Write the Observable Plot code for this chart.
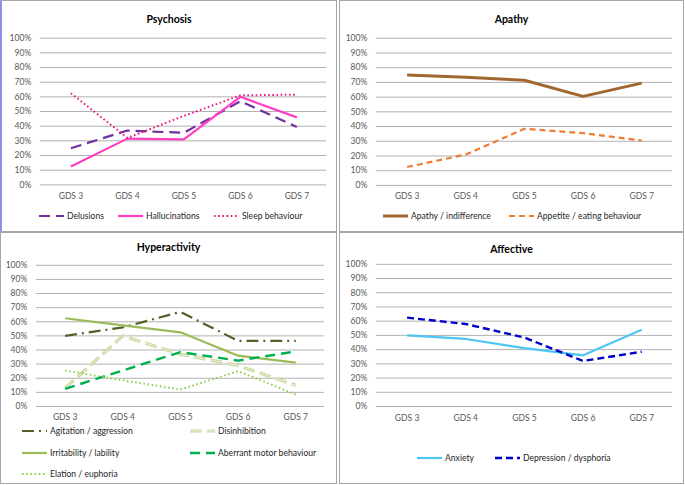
<!DOCTYPE html>
<html>
<head>
<meta charset="utf-8">
<script src="https://cdn.jsdelivr.net/npm/d3@7"></script>
<script src="https://cdn.jsdelivr.net/npm/@observablehq/plot@0.6"></script>
<style>
  html, body { margin: 0; padding: 0; background: #fff; }
  body { width: 685px; height: 485px; position: relative; overflow: hidden; font-family: Lato, "Open Sans", sans-serif; }
  .panel { position: absolute; box-sizing: border-box; border: 1px solid #a6a6a6; background: #fff; }
  .panel svg.plot { position: absolute; left: 0; top: 0; overflow: visible; }
  .title { position: absolute; left: 0; width: 100%; text-align: center; font-weight: bold; font-size: 10.5px; color: #000; }
  .legend { position: absolute; font-size: 8.6px; color: #262626; }
  .item { position: absolute; display: flex; align-items: center; white-space: nowrap; }
  .item svg { display: block; margin-right: 3px; }
</style>
</head>
<body>
<div id="root"></div>
<script>
// ---------- data ----------
const categories = ["GDS 3", "GDS 4", "GDS 5", "GDS 6", "GDS 7"];
const yTicks = [0, 10, 20, 30, 40, 50, 60, 70, 80, 90, 100];

// Psychosis
const delusions = [25, 37, 35.5, 57, 39.5];
const hallucinations = [12.5, 31.5, 31, 60, 46];
const sleepBehaviour = [62.5, 32, 47, 61, 61.5];
// Apathy
const apathyIndifference = [75, 73.5, 71.5, 60.5, 69.5];
const appetiteEating = [12.5, 21, 38.5, 35.5, 30.5];
// Hyperactivity
const agitationAggression = [50, 56, 67, 46.5, 46.5];
const disinhibition = [13, 50, 37, 29, 15];
const irritabilityLability = [62.5, 57.5, 52.5, 36, 31];
const aberrantMotor = [12.5, 25.5, 38.5, 32.5, 39];
const elationEuphoria = [25.5, 18.5, 12, 25, 8.5];
// Affective
const anxiety = [50, 47.5, 41, 36, 54];
const depressionDysphoria = [62.5, 58, 48.5, 32, 38.5];

// ---------- styles ----------
const styles = {
  "Delusions": {stroke: "#7030a0", width: 2.2, dash: "11,6"},
  "Hallucinations": {stroke: "#ff3ec4", width: 2.2, dash: null},
  "Sleep behaviour": {stroke: "#e8177f", width: 2, dash: "1.6,2.6"},
  "Apathy / indifference": {stroke: "#a0672f", width: 3, dash: null},
  "Appetite / eating behaviour": {stroke: "#ed7d31", width: 2.2, dash: "6,4"},
  "Agitation / aggression": {stroke: "#4f6228", width: 2.2, dash: "12,5,2,5"},
  "Disinhibition": {stroke: "#c4d79b", width: 3.2, dash: "12,5", inner: "#eef4e0"},
  "Irritability / lability": {stroke: "#9bbb59", width: 2.2, dash: null},
  "Aberrant motor behaviour": {stroke: "#00b050", width: 2.4, dash: "10,6"},
  "Elation / euphoria": {stroke: "#92d050", width: 2, dash: "1.6,2.6"},
  "Anxiety": {stroke: "#4cc6f2", width: 2.2, dash: null},
  "Depression / dysphoria": {stroke: "#0000cc", width: 2.4, dash: "7,4"}
};

function rows(values) { return categories.map((c, i) => ({x: c, y: values[i]})); }

function lineMarks(series) {
  const marks = [];
  for (const [name, values] of series) {
    const s = styles[name];
    marks.push(Plot.line(rows(values), {x: "x", y: "y", stroke: s.stroke, strokeWidth: s.width, strokeDasharray: s.dash || undefined, strokeLinejoin: "round", strokeLinecap: "butt"}));
    if (s.inner) marks.push(Plot.line(rows(values), {x: "x", y: "y", stroke: s.inner, strokeWidth: 1, strokeDasharray: s.dash}));
  }
  return marks;
}

function makePlot(series, opt) {
  const svg = Plot.plot({
    width: opt.width, height: opt.height,
    marginTop: opt.top, marginBottom: opt.bottom, marginLeft: opt.left, marginRight: opt.right,
    style: {fontFamily: "Lato, sans-serif", fontSize: "8.6px", color: "#595959", background: "transparent"},
    x: {type: "point", domain: categories, padding: 0.5, label: null},
    y: {domain: [0, 100], label: null},
    marks: [
      Plot.ruleY(yTicks, {stroke: "#b0b0b0", strokeWidth: 1}),
      Plot.axisY({ticks: yTicks, tickSize: 0, tickPadding: 9, tickFormat: d => d + "%", fill: "#595959"}),
      Plot.axisX({tickSize: 0, tickPadding: 8, fill: "#595959"}),
      ...lineMarks(series)
    ]
  });
  svg.classList.add("plot");
  return svg;
}

function swatch(name) {
  const s = styles[name];
  const w = 25;
  let inner = `<line x1="0" y1="5" x2="${w}" y2="5" stroke="${s.stroke}" stroke-width="${s.width}" ${s.dash ? `stroke-dasharray="${s.dash}"` : ""}/>`;
  if (s.inner) inner += `<line x1="0" y1="5" x2="${w}" y2="5" stroke="${s.inner}" stroke-width="1" stroke-dasharray="${s.dash}"/>`;
  return `<svg width="${w}" height="10">${inner}</svg>`;
}

function panel(cfg) {
  const div = document.createElement("div");
  div.className = "panel";
  Object.assign(div.style, {left: cfg.x + "px", top: cfg.y + "px", width: cfg.w + "px", height: cfg.h + "px"});
  if (cfg.leftBorder) div.style.borderLeft = cfg.leftBorder;
  div.appendChild(makePlot(cfg.series, cfg.plot));
  const t = document.createElement("div");
  t.className = "title";
  t.style.top = cfg.titleTop + "px";
  t.textContent = cfg.title;
  div.appendChild(t);
  const lg = document.createElement("div");
  lg.className = "legend";
  lg.style.left = "0px"; lg.style.top = "0px";
  for (const it of cfg.legend) {
    const d = document.createElement("div");
    d.className = "item";
    d.style.left = it.x + "px";
    d.style.top = (it.y - 6) + "px";
    d.innerHTML = swatch(it.name) + `<span>${it.name}</span>`;
    lg.appendChild(d);
  }
  div.appendChild(lg);
  document.getElementById("root").appendChild(div);
}

// Psychosis (top-left)
panel({
  x: 0, y: 0, w: 337, h: 232, leftBorder: "2px solid #8f8fef",
  title: "Psychosis", titleTop: 12,
  series: [["Delusions", delusions], ["Hallucinations", hallucinations], ["Sleep behaviour", sleepBehaviour]],
  plot: {width: 337, height: 205, top: 37, bottom: 20, left: 38, right: 10},
  legend: [
    {name: "Delusions", x: 37, y: 216},
    {name: "Hallucinations", x: 116, y: 216},
    {name: "Sleep behaviour", x: 212, y: 216}
  ]
});

// Apathy (top-right)
panel({
  x: 339, y: 0, w: 345, h: 232,
  title: "Apathy", titleTop: 12,
  series: [["Apathy / indifference", apathyIndifference], ["Appetite / eating behaviour", appetiteEating]],
  plot: {width: 345, height: 205, top: 37, bottom: 20, left: 36, right: 11},
  legend: [
    {name: "Apathy / indifference", x: 43, y: 216},
    {name: "Appetite / eating behaviour", x: 169, y: 216}
  ]
});

// Hyperactivity (bottom-left)
panel({
  x: 0, y: 232, w: 337, h: 252,
  title: "Hyperactivity", titleTop: 8,
  series: [["Agitation / aggression", agitationAggression], ["Disinhibition", disinhibition],
           ["Irritability / lability", irritabilityLability], ["Aberrant motor behaviour", aberrantMotor],
           ["Elation / euphoria", elationEuphoria]],
  plot: {width: 337, height: 194, top: 32, bottom: 20, left: 35, right: 12},
  legend: [
    {name: "Agitation / aggression", x: 21, y: 199},
    {name: "Disinhibition", x: 189, y: 199},
    {name: "Irritability / lability", x: 21, y: 221},
    {name: "Aberrant motor behaviour", x: 189, y: 221},
    {name: "Elation / euphoria", x: 21, y: 242}
  ]
});

// Affective (bottom-right)
panel({
  x: 339, y: 232, w: 345, h: 252,
  title: "Affective", titleTop: 10,
  series: [["Anxiety", anxiety], ["Depression / dysphoria", depressionDysphoria]],
  plot: {width: 345, height: 194, top: 31, bottom: 20, left: 36, right: 11},
  legend: [
    {name: "Anxiety", x: 77, y: 226},
    {name: "Depression / dysphoria", x: 155, y: 226}
  ]
});
</script>
</body>
</html>
